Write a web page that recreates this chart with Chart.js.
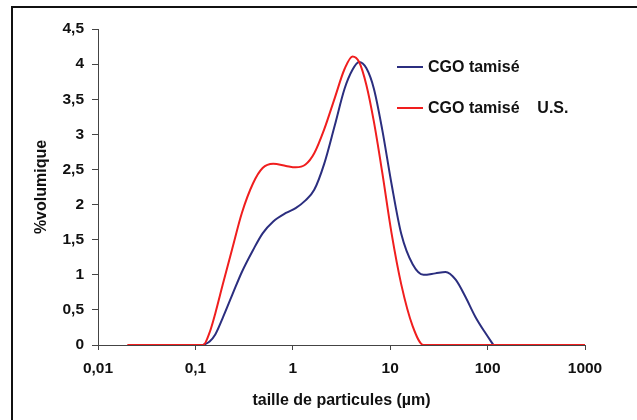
<!DOCTYPE html>
<html lang="fr">
<head>
    <meta charset="UTF-8">
    <title>Granulométrie CGO tamisé</title>
    <script src="https://cdn.jsdelivr.net/npm/chart.js@4.4.1/dist/chart.umd.min.js"></script>
    <style>
        body {
            margin: 0;
            background-color: white;
            width: 637px;
            height: 420px;
            overflow: hidden;
            position: relative;
        }
        .cadre {
            position: absolute;
            left: 11px;
            top: 6px;
            width: 700px;
            height: 500px;
            border: 2px solid #111;
        }
        #granuloChart {
            position: absolute;
            left: 0;
            top: 0;
        }
    </style>
</head>
<body>
    <div class="cadre"></div>
    <canvas id="granuloChart" width="637" height="420"></canvas>

    <script>
        // taille de particules (µm)
        const tailles = [0.02, 0.05, 0.1, 0.12, 0.14, 0.16, 0.19, 0.24, 0.3, 0.39, 0.49, 0.63, 0.85, 1.07, 1.35, 1.66,
                         2.1, 2.7, 3.4, 4.1, 4.8, 5.7, 6.8, 8.3, 10.3, 13, 17, 22, 29, 37, 47, 59, 75, 95, 115, 300, 1000];

        // %volumique
        const cgoTamise = [null, null, null, 0, 0.05, 0.15, 0.38, 0.72, 1.04, 1.35, 1.59, 1.76, 1.88, 1.95, 2.06, 2.21,
                           2.58, 3.13, 3.65, 3.92, 4.03, 3.94, 3.65, 3.06, 2.3, 1.58, 1.15, 1.0, 1.02, 1.04, 0.93, 0.69, 0.4, 0.17, 0, null, null];
        const cgoTamiseUS = [0, 0, 0, 0, 0.18, 0.45, 0.85, 1.38, 1.88, 2.3, 2.52, 2.58, 2.55, 2.53, 2.57, 2.73,
                             3.07, 3.52, 3.93, 4.11, 4.03, 3.7, 3.18, 2.45, 1.6, 0.86, 0.27, 0, 0, 0, 0, 0, 0, 0, 0, 0, 0];

        const xTicks = [0.01, 0.1, 1, 10, 100, 1000];
        const xTickLabels = ['0,01', '0,1', '1', '10', '100', '1000'];

        function toPoints(values) {
            return tailles
                .map((t, i) => ({ x: t, y: values[i] }))
                .filter(p => p.y !== null);
        }

        const police = "'Liberation Sans', Arial, sans-serif";

        // legende dessinee dans la zone du graphique
        const legendePlugin = {
            id: 'legendeInterne',
            afterDraw(chart) {
                const { ctx, chartArea } = chart;
                ctx.save();
                ctx.font = 'bold 16px ' + police;
                ctx.textBaseline = 'middle';
                chart.data.datasets.forEach((ds, i) => {
                    const y = chartArea.top + 38 + i * 41;
                    const x = chartArea.left + 299;
                    ctx.strokeStyle = ds.borderColor;
                    ctx.lineWidth = 2;
                    ctx.beginPath();
                    ctx.moveTo(x, y);
                    ctx.lineTo(x + 26, y);
                    ctx.stroke();
                    ctx.fillStyle = '#111';
                    ctx.fillText(ds.label, x + 31, y + 1);
                });
                ctx.restore();
            }
        };

        const ctx = document.getElementById('granuloChart').getContext('2d');
        const chart = new Chart(ctx, {
            type: 'line',
            data: {
                datasets: [{
                    label: 'CGO tamisé',
                    data: toPoints(cgoTamise),
                    borderColor: '#2B2E7F',
                    borderWidth: 2,
                    pointRadius: 0,
                    cubicInterpolationMode: 'monotone',
                    order: 1
                }, {
                    label: 'CGO tamisé    U.S.',
                    data: toPoints(cgoTamiseUS),
                    borderColor: '#F01E1E',
                    borderWidth: 2,
                    pointRadius: 0,
                    cubicInterpolationMode: 'monotone',
                    order: 0
                }]
            },
            options: {
                responsive: false,
                animation: false,
                devicePixelRatio: 1,
                layout: {
                    padding: { top: 29, right: 52, left: 0, bottom: 0 }
                },
                plugins: {
                    legend: { display: false },
                    tooltip: { enabled: false }
                },
                scales: {
                    x: {
                        type: 'logarithmic',
                        min: 0.01,
                        max: 1000,
                        afterBuildTicks: scale => {
                            scale.ticks = xTicks.map(v => ({ value: v }));
                        },
                        afterFit: scale => { scale.height = 75; },
                        ticks: {
                            autoSkip: false,
                            maxRotation: 0,
                            padding: 9,
                            color: '#111',
                            font: { family: police, size: 15.5, weight: 'bold' },
                            callback: (value) => {
                                const i = xTicks.indexOf(value);
                                return i >= 0 ? xTickLabels[i] : '';
                            }
                        },
                        grid: { drawOnChartArea: false, tickLength: 5, color: '#444' },
                        border: { color: '#444', width: 1 },
                        title: {
                            display: true,
                            text: 'taille de particules (µm)',
                            color: '#111',
                            font: { family: police, size: 16, weight: 'bold' },
                            padding: { top: 0, bottom: 10 }
                        }
                    },
                    y: {
                        min: 0,
                        max: 4.5,
                        afterFit: scale => { scale.width = 98; },
                        ticks: {
                            stepSize: 0.5,
                            padding: 8,
                            color: '#111',
                            font: { family: police, size: 15.5, weight: 'bold' },
                            callback: value => String(value).replace('.', ',')
                        },
                        grid: { drawOnChartArea: false, tickLength: 6, color: '#444' },
                        border: { color: '#444', width: 1 },
                        title: {
                            display: true,
                            text: '%volumique',
                            color: '#111',
                            font: { family: police, size: 16, weight: 'bold' },
                            padding: { top: 32, bottom: 0 }
                        }
                    }
                }
            },
            plugins: [legendePlugin]
        });
    </script>
</body>
</html>
